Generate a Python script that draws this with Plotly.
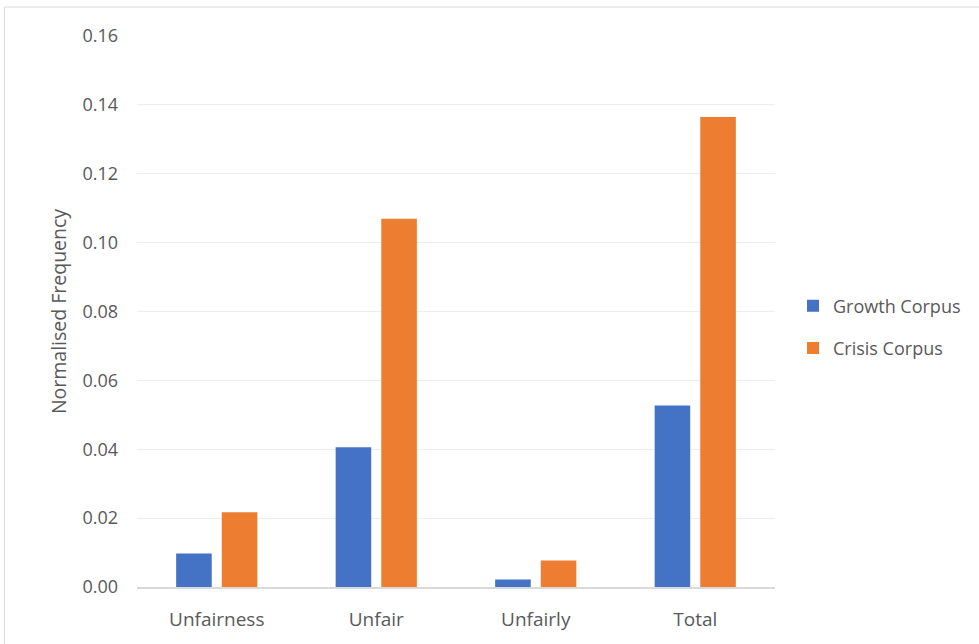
import plotly.graph_objects as go

# Normalised frequency of the "unfair" word family in two corpora
categories = ["Unfairness", "Unfair", "Unfairly", "Total"]
growth_corpus = [0.0097, 0.0406, 0.0022, 0.0527]
crisis_corpus = [0.0217, 0.1069, 0.0077, 0.1365]
y_ticks = [0.00, 0.02, 0.04, 0.06, 0.08, 0.10, 0.12, 0.14, 0.16]

TEXT = "#595959"
FONT = "Open Sans"

fig = go.Figure()
fig.add_trace(go.Bar(name="Growth Corpus", x=categories, y=growth_corpus,
                     marker=dict(color="#4472C4", line=dict(width=0)),
                     legendgroup="g"))
fig.add_trace(go.Bar(name="Crisis Corpus", x=categories, y=crisis_corpus,
                     marker=dict(color="#ED7D31", line=dict(width=0)),
                     legendgroup="c"))

W, H = 979, 644
L, R, T, B = 137, 979 - 775, 36, 644 - 587
pw, ph = W - L - R, H - T - B

def px_x(p):
    return (p - L) / pw

def px_y(p):
    return (H - B - p) / ph

fig.update_layout(
    width=W, height=H,
    margin=dict(l=L, r=R, t=T, b=B),
    paper_bgcolor="white", plot_bgcolor="white",
    font=dict(family=FONT, size=18, color=TEXT),
    barmode="group", bargap=0.428, bargroupgap=0.22,
    showlegend=True,
    legend=dict(x=px_x(793), xanchor="left", y=px_y(327), yanchor="middle",
                traceorder="grouped", tracegroupgap=16,
                font=dict(size=18, color=TEXT, family=FONT),
                itemwidth=30, bgcolor="rgba(0,0,0,0)"),
    xaxis=dict(showgrid=False, showline=True, linecolor="#d9d9d9", linewidth=1.5,
               ticks="", tickfont=dict(size=19, color=TEXT, family=FONT),
               ticklabelstandoff=14),
    yaxis=dict(range=[0, 0.16], tickvals=y_ticks, tickformat=".2f",
               showgrid=True, gridcolor="#ededed", gridwidth=1.2,
               zeroline=False, showline=False, ticks="",
               tickfont=dict(size=18, color=TEXT, family=FONT),
               ticklabelstandoff=18,
               title=dict(text="Normalised Frequency", standoff=10,
                          font=dict(size=19.5, color=TEXT, family=FONT))),
    shapes=[dict(type="rect", xref="paper", yref="paper",
                 x0=px_x(4.5), x1=px_x(990), y0=px_y(660), y1=px_y(7),
                 line=dict(color="#d9d9d9", width=1), fillcolor="rgba(0,0,0,0)",
                 layer="below")],
)

fig.write_html("out.html")
